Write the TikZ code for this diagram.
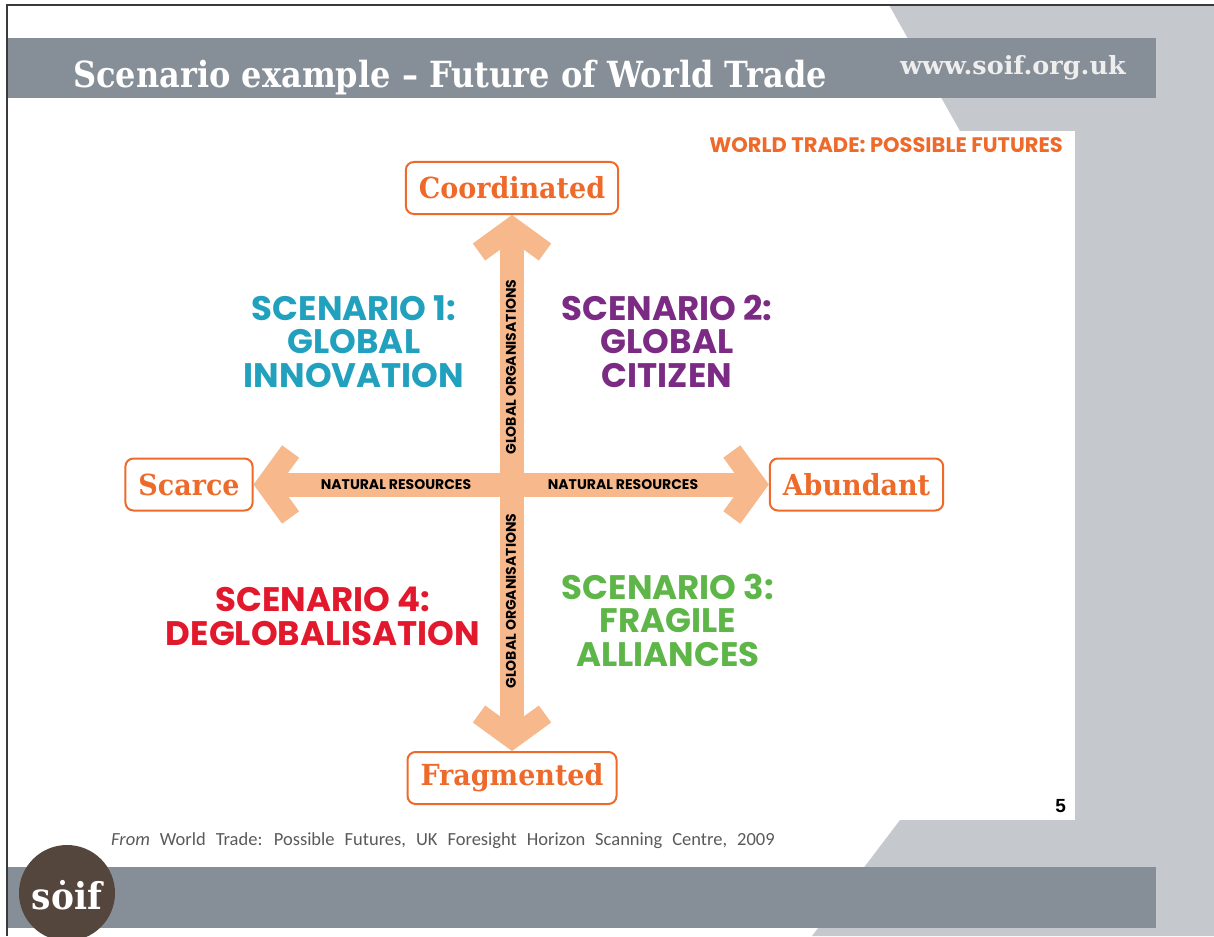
\documentclass[tikz,border=0pt]{standalone}
\usepackage{fontspec}
\usetikzlibrary{positioning}
\usetikzlibrary{arrows.meta}

\newfontfamily\slabfont{DejaVu Serif}[FakeStretch = 0.93]
\newfontfamily\titlefont{DejaVu Serif}[FakeStretch = 0.89]
\newfontfamily\urlfont{DejaVu Serif}[FakeStretch = 1.02]
\newfontfamily\geofont{Poppins}[FakeStretch = 1.0]
\newfontfamily\notefont{Carlito}
\newfontfamily\numfont{Liberation Sans}

\definecolor{barGrey}{HTML}{868E97}
\definecolor{paneGrey}{HTML}{C5C8CD}
\definecolor{frameLine}{HTML}{3A3A3A}
\definecolor{logoBrown}{HTML}{54463D}
\definecolor{urlGrey}{HTML}{EEEEEE}
\definecolor{tradeOrange}{HTML}{EE6A2B}
\definecolor{arrowPeach}{HTML}{F7B88C}
\definecolor{sceneTeal}{HTML}{22A1BF}
\definecolor{scenePurple}{HTML}{7B2B83}
\definecolor{sceneGreen}{HTML}{5EB648}
\definecolor{sceneRed}{HTML}{E2192C}
\definecolor{noteGrey}{HTML}{5A5A5A}

\tikzset{
	endbox/.style = {draw = tradeOrange, line width = 2pt, fill = white, rounded corners = 8pt, text = tradeOrange, inner xsep = 13pt, minimum height = 52pt, font = \slabfont\bfseries\fontsize{29}{32}\selectfont},
	scenario/.style = {anchor = base, align = center, font = \geofont\bfseries\fontsize{34}{33.5}\selectfont},
	axislabel/.style = {inner sep = 0pt, font = \geofont\bfseries\fontsize{14}{16}\selectfont},
	barb/.tip = {Straight Barb[length = 24pt, width = 66pt, line width = 21pt]},
	axisarrow/.style = {draw = arrowPeach, line width = 24pt, barb-barb}
}

\begin{document}
\begin{tikzpicture}[x = 1pt, y = -1pt]
	\useasboundingbox (0, 0) rectangle (1214, 936);
	\fill[white] (0, 0) rectangle (1214, 936);
	% slide background
	\fill[paneGrey] (889, 5)--(1214, 5)--(1214, 936)--(812, 936)--(900, 820)--(960, 131)--cycle;
	\fill[white] (100, 131) rectangle (1075, 820);
	\fill[barGrey] (8, 38) rectangle (1156, 98);
	\fill[barGrey] (8, 867) rectangle (1156, 928);
	\draw[frameLine, line width = 2pt] (1214, 5)--(7, 5)--(7, 936);
	\fill[logoBrown] (67, 893) circle [radius = 48];
	\node[text = white, font = \slabfont\bfseries\fontsize{37}{40}\selectfont] (logo) at (67, 895) {sȯif};

	\node[anchor = base west, text = white, inner sep = 0pt] (title) at (73, 88) {\titlefont\bfseries\fontsize{36}{40}\selectfont Scenario example – Future of World Trade};
	\node[anchor = base west, text = urlGrey, inner sep = 0pt] (url) at (900, 75) {\urlfont\bfseries\fontsize{25}{28}\selectfont www.soif.org.uk};
	\node[anchor = base east, text = tradeOrange, inner sep = 0pt] (heading) at (1063, 153) {\geofont\bfseries\fontsize{21}{23}\selectfont WORLD TRADE: POSSIBLE FUTURES};

	% the two axes
	\node[endbox] (coord) at (512, 188) {Coordinated};
	\node[endbox] (frag) at (512, 778) {Fragmented};
	\node[endbox] (scarce) at (189, 484.5) {Scarce};
	\node[endbox] (abund) at (856.5, 484.5) {Abundant};
	\draw[axisarrow] (scarce)--(abund);
	\draw[axisarrow] (coord)--(frag);
	\node[axislabel] (resLeft) at (396, 485) {NATURAL RESOURCES};
	\node[axislabel] (resRight) at (623, 485) {NATURAL RESOURCES};
	\node[axislabel, rotate = 90] (orgTop) at (511, 367) {GLOBAL ORGANISATIONS};
	\node[axislabel, rotate = 90] (orgBottom) at (511, 601) {GLOBAL ORGANISATIONS};

	% quadrants (base = last line)
	\node[scenario, text = sceneTeal] (sceneOne) at (354, 387) {SCENARIO 1:\\GLOBAL\\INNOVATION};
	\node[scenario, text = scenePurple] (sceneTwo) at (667, 387) {SCENARIO 2:\\GLOBAL\\CITIZEN};
	\node[scenario, text = sceneGreen] (sceneThree) at (668, 666) {SCENARIO 3:\\FRAGILE\\ALLIANCES};
	\node[scenario, text = sceneRed] (sceneFour) at (323, 645) {SCENARIO 4:\\DEGLOBALISATION};

	\node[anchor = base east, inner sep = 0pt] (page) at (1066, 812) {\numfont\bfseries\fontsize{19}{21}\selectfont 5};
	\node[anchor = base west, text = noteGrey, inner sep = 0pt] (source) at (111, 845) {\notefont\fontsize{18.5}{21}\selectfont\spaceskip = 10pt\textit{From} World Trade: Possible Futures, UK Foresight Horizon Scanning Centre, 2009};
\end{tikzpicture}
\end{document}
